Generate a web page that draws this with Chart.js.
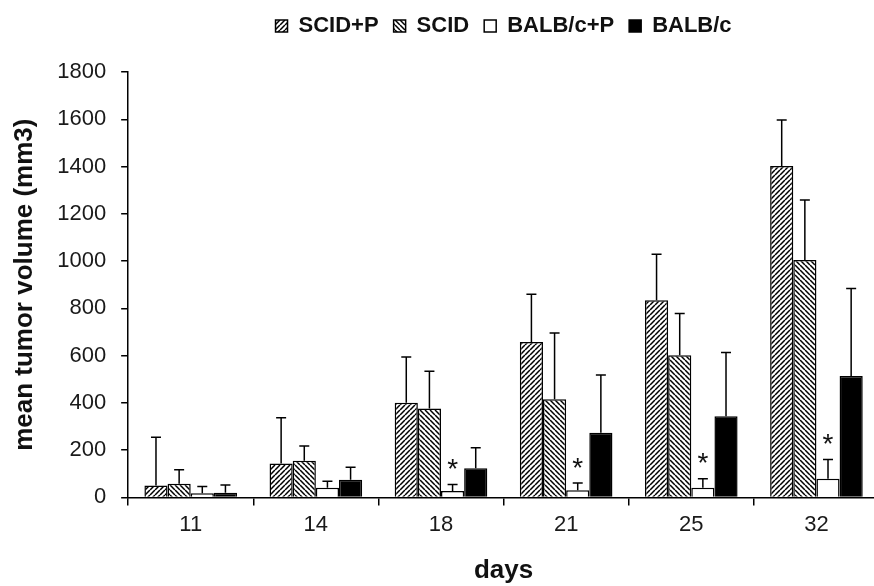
<!DOCTYPE html>
<html>
<head>
<meta charset="utf-8">
<script src="https://cdn.jsdelivr.net/npm/chart.js@4/dist/chart.umd.min.js"></script>
<style>
  html, body { margin: 0; padding: 0; background: #fff; overflow: hidden; }
  #wrap { width: 882px; height: 586px; }
</style>
</head>
<body>
<div id="wrap"><canvas id="chart" width="882" height="586"></canvas></div>
<script>
// ── Data ──────────────────────────────────────────────────
const days       = ['11', '14', '18', '21', '25', '32'];
const scidP      = [50, 143, 400, 658, 834, 1402];
const scidPSd    = [204, 194, 194, 202, 195, 195];
const scid       = [58, 155, 376, 415, 601, 1004];
const scidSd     = [59, 62, 158, 281, 177, 254];
const balbP      = [18, 41, 27, 30, 41, 79];
const balbPSd    = [28, 27, 28, 31, 38, 81];
const balb       = [20, 75, 123, 274, 343, 514];
const balbSd     = [32, 53, 87, 244, 270, 370];
const starred    = [false, false, true, true, true, true];   // * over BALB/c+P
const yTicks     = [0, 200, 400, 600, 800, 1000, 1200, 1400, 1600, 1800];

const FONT = '"Liberation Sans", Arial, sans-serif';
Chart.defaults.font.family = FONT;
Chart.defaults.color = '#1a1a1a';

const canvas = document.getElementById('chart');
const ctx = canvas.getContext('2d');

// ── Hatch fills ───────────────────────────────────────────
function hatch(dir) {
  const s = 5;
  const c = document.createElement('canvas');
  c.width = c.height = s;
  const g = c.getContext('2d');
  g.fillStyle = '#fff';
  g.fillRect(0, 0, s, s);
  g.strokeStyle = '#000';
  g.lineWidth = 1.5;
  g.beginPath();
  for (let k = -1; k <= 1; k++) {
    if (dir > 0) { g.moveTo(k * s, s); g.lineTo(k * s + s, 0); }
    else         { g.moveTo(k * s, 0); g.lineTo(k * s + s, s); }
  }
  g.stroke();
  return ctx.createPattern(c, 'repeat');
}

// ── Error bars + stars ────────────────────────────────────
const errorBars = {
  id: 'errorBars',
  afterDatasetsDraw(chart) {
    const c = chart.ctx, y = chart.scales.y;
    c.save();
    c.strokeStyle = '#000';
    c.lineWidth = 1.5;
    chart.data.datasets.forEach((ds, i) => {
      chart.getDatasetMeta(i).data.forEach((bar, j) => {
        const top = y.getPixelForValue(ds.data[j] + ds.sd[j]);
        c.beginPath();
        c.moveTo(bar.x, bar.y);
        c.lineTo(bar.x, top);
        c.moveTo(bar.x - 5, top);
        c.lineTo(bar.x + 5, top);
        c.stroke();
        if (ds.stars && ds.stars[j]) {
          c.fillStyle = '#111';
          c.font = '28px ' + FONT;
          c.textAlign = 'center';
          c.textBaseline = 'middle';
          c.fillText('*', bar.x, top - 14);
        }
      });
    });
    c.restore();
  }
};

// push chart area down below the legend
const legendGap = {
  id: 'legendGap',
  beforeInit(chart) {
    const fit = chart.legend.fit;
    chart.legend.fit = function () { fit.call(this); this.height += 25; };
  }
};

const common = { borderColor: '#000', borderWidth: 1.5, categoryPercentage: 0.74, barPercentage: 1 };

new Chart(canvas, {
  type: 'bar',
  data: {
    labels: days,
    datasets: [
      { label: 'SCID+P',   data: scidP, sd: scidPSd, backgroundColor: hatch(1),  ...common },
      { label: 'SCID',     data: scid,  sd: scidSd,  backgroundColor: hatch(-1), ...common },
      { label: 'BALB/c+P', data: balbP, sd: balbPSd, backgroundColor: '#fff', stars: starred, ...common },
      { label: 'BALB/c',   data: balb,  sd: balbSd,  backgroundColor: '#000', ...common },
    ]
  },
  options: {
    responsive: false,
    animation: false,
    layout: { padding: { left: 0, right: 3, top: 0, bottom: 0 } },
    plugins: {
      tooltip: { enabled: false },
      legend: {
        position: 'top',
        fullSize: false,
        labels: {
          boxWidth: 12, boxHeight: 12, padding: 15,
          color: '#111',
          font: { size: 22, weight: 'bold' }
        }
      }
    },
    scales: {
      x: {
        offset: true,
        grid: { offset: true, drawOnChartArea: false, tickLength: 8, color: '#000', lineWidth: 1.5 },
        border: { color: '#000', width: 1.5 },
        ticks: { padding: 6, color: '#1a1a1a', font: { size: 22 } },
        title: { display: true, text: 'days', color: '#111', font: { size: 26, weight: 'bold' }, padding: { top: 11, bottom: 0 } }
      },
      y: {
        min: 0, max: 1800,
        afterBuildTicks: s => { s.ticks = yTicks.map(v => ({ value: v })); },
        grid: { drawOnChartArea: false, tickLength: 7, color: '#000', lineWidth: 1.5 },
        border: { color: '#000', width: 1.5 },
        ticks: { padding: 15, color: '#1a1a1a', font: { size: 22 }, callback: v => String(v) },
        title: { display: true, text: 'mean tumor volume (mm3)', color: '#111', font: { size: 26, weight: 'bold' }, padding: { top: 9, bottom: 2 } }
      }
    }
  },
  plugins: [errorBars, legendGap]
});
</script>
</body>
</html>
